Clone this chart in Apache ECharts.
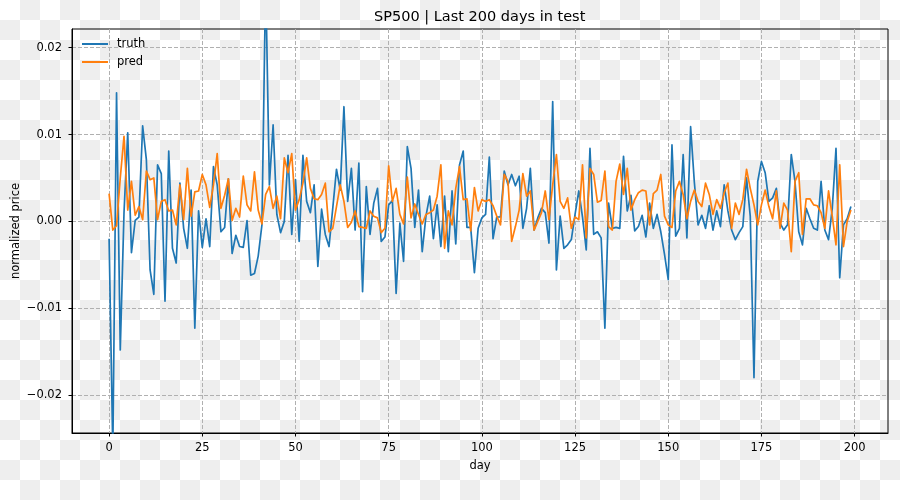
<!DOCTYPE html>
<html><head><meta charset="utf-8">
<script src="https://cdn.jsdelivr.net/npm/echarts@6/dist/echarts.min.js"></script>
<style>
html,body{margin:0;padding:0;}
body{width:900px;height:500px;background:repeating-conic-gradient(#eeeeee 0 25%, #ffffff 0 50%) 0 0/40px 40px;}
#c{width:900px;height:500px;}
</style></head><body><div id="c"></div>
<script>
const truth = [
-0.0020,-0.0265,0.0148,-0.0148,0.0010,0.0102,-0.0036,0.0001,0.0005,0.0110,
0.0071,-0.0056,-0.0084,0.0065,0.0055,-0.0092,0.0081,-0.0031,-0.0048,0.0044,
-0.0008,-0.0031,0.0036,-0.0123,0.0012,-0.0030,0.0003,-0.0029,0.0063,0.0042,
-0.0012,-0.0007,0.0049,-0.0037,-0.0016,-0.0029,-0.0030,0.0001,-0.0062,-0.0060,
-0.0040,-0.0004,0.0280,0.0042,0.0111,0.0008,-0.0013,0.0000,0.0076,-0.0015,
0.0048,-0.0023,0.0076,0.0023,0.0010,0.0042,-0.0052,0.0014,-0.0015,-0.0029,
0.0015,0.0060,0.0036,0.0132,0.0023,0.0061,-0.0010,0.0067,-0.0081,0.0040,
-0.0015,0.0021,0.0038,-0.0023,-0.0018,0.0019,0.0024,-0.0083,-0.0002,-0.0046,
0.0086,0.0061,-0.0007,0.0036,-0.0035,0.0006,0.0029,-0.0020,0.0019,-0.0029,
0.0029,-0.0035,0.0035,-0.0026,0.0065,0.0081,-0.0007,-0.0007,-0.0059,-0.0008,
0.0004,0.0008,0.0074,-0.0020,0.0005,0.0005,0.0058,0.0042,0.0054,0.0041,
0.0052,-0.0008,0.0015,0.0061,-0.0010,0.0004,0.0015,0.0010,-0.0025,0.0138,
-0.0056,0.0006,-0.0031,-0.0027,-0.0021,0.0008,0.0035,0.0005,-0.0033,0.0084,
-0.0015,-0.0012,-0.0019,-0.0123,0.0021,-0.0008,-0.0007,-0.0008,0.0075,0.0012,
0.0030,-0.0011,-0.0006,0.0007,-0.0018,0.0021,-0.0008,0.0008,-0.0012,-0.0038,
-0.0067,0.0088,-0.0017,-0.0008,0.0077,-0.0019,0.0109,0.0045,-0.0004,0.0007,
-0.0008,0.0018,-0.0010,0.0012,-0.0006,0.0042,0.0012,-0.0010,-0.0021,-0.0013,
-0.0006,0.0050,0.0006,-0.0180,0.0046,0.0069,0.0056,0.0023,0.0027,0.0038,
-0.0002,-0.0010,-0.0004,0.0077,0.0046,-0.0012,-0.0027,0.0015,0.0003,-0.0008,
-0.0010,0.0046,-0.0010,-0.0021,0.0015,0.0084,-0.0065,-0.0004,0.0003,0.0017
];
const pred = [
0.0032,-0.0010,-0.0005,0.0050,0.0098,0.0013,0.0046,0.0007,0.0017,0.0002,
0.0058,0.0048,0.0050,0.0002,0.0023,0.0025,0.0012,0.0013,-0.0004,0.0042,
0.0002,0.0061,0.0006,0.0034,0.0035,0.0054,0.0042,0.0016,0.0042,0.0078,
0.0015,0.0030,0.0049,0.0001,0.0015,0.0005,0.0052,0.0019,0.0012,0.0057,
0.0013,-0.0003,0.0031,0.0040,0.0015,0.0029,0.0003,0.0073,0.0056,0.0078,
0.0013,0.0025,0.0044,0.0073,0.0038,0.0026,0.0025,0.0031,0.0044,-0.0012,
-0.0008,0.0017,0.0042,0.0023,-0.0007,-0.0001,0.0012,-0.0006,-0.0007,-0.0008,
0.0012,0.0006,0.0004,-0.0013,-0.0008,0.0064,0.0023,0.0038,0.0008,-0.0003,
0.0051,0.0004,0.0020,0.0008,-0.0003,0.0008,0.0010,0.0013,0.0029,0.0065,
-0.0031,0.0012,-0.0004,0.0038,0.0063,0.0025,0.0026,-0.0011,0.0039,0.0012,
0.0025,0.0023,0.0025,0.0018,0.0006,-0.0004,0.0054,0.0046,-0.0023,-0.0006,
0.0013,0.0055,0.0029,0.0035,-0.0010,0.0000,0.0010,0.0035,0.0002,0.0042,
0.0077,0.0023,0.0015,0.0027,-0.0008,0.0005,0.0002,0.0065,-0.0019,0.0061,
0.0054,0.0022,0.0024,0.0058,-0.0006,-0.0010,0.0046,0.0066,0.0031,0.0061,
0.0013,0.0025,0.0033,0.0036,0.0035,-0.0004,0.0032,0.0036,0.0054,0.0006,
-0.0004,-0.0007,0.0035,0.0046,0.0031,0.0003,0.0023,0.0036,0.0023,0.0017,
0.0044,0.0031,0.0008,0.0025,0.0015,0.0033,0.0044,-0.0008,0.0021,0.0008,
0.0025,0.0060,0.0038,0.0019,-0.0004,0.0019,0.0036,0.0017,0.0003,0.0035,
-0.0008,0.0021,0.0013,-0.0035,0.0046,0.0056,-0.0015,0.0026,0.0026,0.0019,
0.0018,0.0010,-0.0008,0.0035,0.0006,-0.0027,0.0065,-0.0029,0.0000,0.0013
];
const xTicks = [0, 25, 50, 75, 100, 125, 150, 175, 200];
const yTicks = [-0.02, -0.01, 0, 0.01, 0.02];
const days = truth.map((_, i) => i);

const FONT = 'DejaVu Sans';
const chart = echarts.init(document.getElementById('c'), null, {renderer: 'canvas'});
const gridLine = {show: true, lineStyle: {color: '#b0b0b0', width: 1, type: [4, 2]}};
chart.setOption({
  backgroundColor: 'transparent',
  animation: false,
  title: {
    text: 'SP500 | Last 200 days in test',
    left: 374, top: 10, padding: 0,
    textStyle: {fontFamily: FONT, fontSize: 14.5, fontWeight: 'normal', color: '#000'}
  },
  legend: {
    orient: 'vertical', left: 82, top: 37, padding: 0,
    icon: 'rect', itemWidth: 26, itemHeight: 2, itemGap: 4,
    textStyle: {fontFamily: FONT, fontSize: 11.5, color: '#000', padding: [0, 0, 0, 4], lineHeight: 14},
    data: ['truth', 'pred']
  },
  grid: {left: 72, right: 12, top: 29, bottom: 67, outerBoundsMode: 'none', containLabel: false,
    show: true, borderColor: '#000', borderWidth: 1, backgroundColor: 'transparent'},
  xAxis: {
    type: 'value', min: -9.95, max: 208.95,
    name: 'day', nameLocation: 'middle', nameGap: 27, nameMoveOverlap: false,
    nameTextStyle: {fontFamily: FONT, fontSize: 11.5, color: '#000'},
    axisLine: {show: true, onZero: false, lineStyle: {color: '#000', width: 1}},
    axisTick: {show: true, length: 3.5, lineStyle: {color: '#000'}, customValues: xTicks},
    axisLabel: {customValues: xTicks, fontFamily: FONT, fontSize: 11.5, color: '#000', margin: 9},
    splitLine: gridLine
  },
  yAxis: {
    type: 'value', min: -0.02437, max: 0.02215,
    name: 'normalized price', nameLocation: 'middle', nameGap: 50, nameMoveOverlap: false,
    nameTextStyle: {fontFamily: FONT, fontSize: 11.5, color: '#000'},
    axisLine: {show: true, onZero: false, lineStyle: {color: '#000', width: 1}},
    axisTick: {show: true, length: 3.5, lineStyle: {color: '#000'}, customValues: yTicks},
    axisLabel: {customValues: yTicks, fontFamily: FONT, fontSize: 11.5, color: '#000', margin: 10,
      formatter: v => (v < -1e-9 ? '\u2212' : '') + Math.abs(v).toFixed(2)},
    splitLine: gridLine
  },
  series: [
    {name: 'truth', type: 'line', symbol: 'none', clip: true,
     data: days.map(d => [d, truth[d]]),
     lineStyle: {color: '#1f77b4', width: 1.7, join: 'round'}, itemStyle: {color: '#1f77b4'}},
    {name: 'pred', type: 'line', symbol: 'none', clip: true,
     data: days.map(d => [d, pred[d]]),
     lineStyle: {color: '#ff7f0e', width: 1.7, join: 'round'}, itemStyle: {color: '#ff7f0e'}}
  ]
});
</script></body></html>
